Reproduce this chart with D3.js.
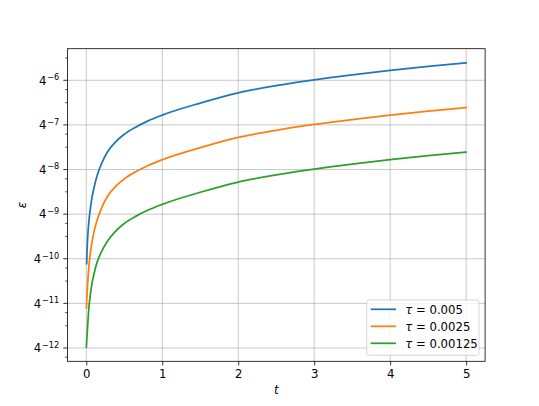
<!DOCTYPE html>
<html>
<head>
<meta charset="utf-8">
<script src="https://cdn.jsdelivr.net/npm/d3@7"></script>
<style>
  html, body { margin: 0; padding: 0; background: #fff; }
  svg { display: block; font-family: "DejaVu Sans", sans-serif; }
</style>
</head>
<body>
<div id="chart"></div>
<script>
// Error curves, log base 4 on the y axis
// values are read off the picture as powers of 4 (eps = 4^v)
const tauLabels = ["0.005", "0.0025", "0.00125"];
const colors = ["#1f77b4", "#ff7f0e", "#2ca02c"];

const tBlue = [0.005, 0.01, 0.02, 0.035, 0.05, 0.07, 0.1, 0.14, 0.2, 0.28, 0.38, 0.5, 0.65, 0.8, 1, 1.5, 2, 2.5, 3, 3.5, 4, 4.5, 5];
const blueLog4 = [-10.11, -9.82, -9.47, -9.15, -8.92, -8.68, -8.42, -8.15, -7.87, -7.60, -7.39, -7.21, -7.05, -6.92, -6.78, -6.51, -6.28, -6.12, -5.99, -5.88, -5.78, -5.69, -5.61];

const tOrange = [0.0025, 0.005, 0.01, 0.02, 0.035, 0.05, 0.07, 0.1, 0.14, 0.2, 0.28, 0.38, 0.5, 0.65, 0.8, 1, 1.5, 2, 2.5, 3, 3.5, 4, 4.5, 5];
const orangeLog4 = [-11.10, -10.98, -10.80, -10.50, -10.16, -9.92, -9.68, -9.41, -9.15, -8.87, -8.60, -8.39, -8.21, -8.05, -7.92, -7.78, -7.51, -7.28, -7.12, -6.99, -6.88, -6.78, -6.69, -6.61];

const tGreen = [0.00125, 0.005, 0.01, 0.02, 0.035, 0.05, 0.07, 0.1, 0.14, 0.2, 0.28, 0.38, 0.5, 0.65, 0.8, 1, 1.5, 2, 2.5, 3, 3.5, 4, 4.5, 5];
const greenLog4 = [-11.98, -11.86, -11.72, -11.44, -11.08, -10.85, -10.60, -10.35, -10.09, -9.84, -9.60, -9.39, -9.21, -9.05, -8.92, -8.78, -8.51, -8.28, -8.12, -7.99, -7.88, -7.78, -7.69, -7.61];

const xTicks = [0, 1, 2, 3, 4, 5];
const yTickPowers = [-12, -11, -10, -9, -8, -7, -6];

const series = [
  { t: tBlue, v: blueLog4 },
  { t: tOrange, v: orangeLog4 },
  { t: tGreen, v: greenLog4 },
].map((s, i) => ({
  label: tauLabels[i],
  color: colors[i],
  points: s.t.map((t, j) => ({ t, eps: Math.pow(4, s.v[j]) })),
}));

const W = 539, H = 406;
const margin = { left: 67.4, right: 539 - 485.1, top: 48.7, bottom: 406 - 361.3 };

const svg = d3.select("#chart").append("svg")
  .attr("width", W).attr("height", H)
  .attr("viewBox", `0 0 ${W} ${H}`);

// domains with matplotlib-style 5% margins (log space on y)
const allPts = series.flatMap((s) => s.points);
const tExt = d3.extent(allPts, (d) => d.t);
const tPad = (tExt[1] - tExt[0]) * 0.05;
const lExt = d3.extent(allPts, (d) => Math.log(d.eps) / Math.log(4));
const lPad = (lExt[1] - lExt[0]) * 0.05;

const x = d3.scaleLinear()
  .domain([tExt[0] - tPad, tExt[1] + tPad])
  .range([margin.left, W - margin.right]);
const y = d3.scaleLog().base(4)
  .domain([Math.pow(4, lExt[0] - lPad), Math.pow(4, lExt[1] + lPad)])
  .range([H - margin.bottom, margin.top]);

const gridColor = "#b0b0b0";
const fontSize = 11.7;

// grid
const grid = svg.append("g");
xTicks.forEach((t) => {
  grid.append("line")
    .attr("x1", x(t)).attr("x2", x(t))
    .attr("y1", margin.top).attr("y2", H - margin.bottom)
    .attr("stroke", gridColor).attr("stroke-width", 0.7);
});
yTickPowers.forEach((p) => {
  grid.append("line")
    .attr("x1", margin.left).attr("x2", W - margin.right)
    .attr("y1", y(Math.pow(4, p))).attr("y2", y(Math.pow(4, p)))
    .attr("stroke", gridColor).attr("stroke-width", 0.7);
});

// curves
const line = d3.line()
  .x((d) => x(d.t))
  .y((d) => y(d.eps))
  .curve(d3.curveMonotoneX);

const plot = svg.append("g");
series.forEach((s) => {
  plot.append("path")
    .attr("d", line(s.points))
    .attr("fill", "none")
    .attr("stroke", s.color)
    .attr("stroke-width", 1.75)
    .attr("stroke-linecap", "square");
});

// frame
svg.append("rect")
  .attr("x", margin.left).attr("y", margin.top)
  .attr("width", W - margin.left - margin.right)
  .attr("height", H - margin.top - margin.bottom)
  .attr("fill", "none").attr("stroke", "#000").attr("stroke-width", 0.8);

// x axis
const xAxis = svg.append("g").attr("transform", `translate(0,${H - margin.bottom})`)
  .call(d3.axisBottom(x).tickValues(xTicks).tickSize(4.1).tickPadding(4).tickFormat(d3.format("d")));
xAxis.select(".domain").remove();
xAxis.selectAll("line").attr("stroke", "#000").attr("stroke-width", 0.8);
xAxis.selectAll("text")
  .attr("font-family", "DejaVu Sans").attr("font-size", fontSize).attr("fill", "#000");

// y axis: majors at 4^k, minors at 2*4^k and 3*4^k
const yMinor = [];
for (let p = -13; p <= -5; p++) {
  [2, 3].forEach((m) => {
    const v = m * Math.pow(4, p);
    if (v >= y.domain()[0] && v <= y.domain()[1]) yMinor.push(v);
  });
}
const yAx = svg.append("g");
yMinor.forEach((v) => {
  yAx.append("line")
    .attr("x1", margin.left - 2.4).attr("x2", margin.left)
    .attr("y1", y(v)).attr("y2", y(v))
    .attr("stroke", "#000").attr("stroke-width", 0.6);
});
yTickPowers.forEach((p) => {
  const yy = y(Math.pow(4, p));
  yAx.append("line")
    .attr("x1", margin.left - 4.1).attr("x2", margin.left)
    .attr("y1", yy).attr("y2", yy)
    .attr("stroke", "#000").attr("stroke-width", 0.8);
  const txt = yAx.append("text")
    .attr("x", margin.left - 8.2).attr("y", yy + 4.2)
    .attr("text-anchor", "end")
    .attr("font-size", fontSize).attr("fill", "#000");
  txt.append("tspan").text("4");
  txt.append("tspan")
    .attr("font-size", fontSize * 0.7).attr("dy", -4.4)
    .attr("dx", 0.8)
    .text("\u2212" + Math.abs(p));
});

// axis labels
svg.append("text")
  .attr("x", (margin.left + W - margin.right) / 2).attr("y", 394)
  .attr("text-anchor", "middle")
  .attr("font-size", fontSize).attr("font-style", "italic")
  .text("t");
svg.append("text")
  .attr("transform", `translate(26,${(margin.top + H - margin.bottom) / 2}) rotate(-90)`)
  .attr("text-anchor", "middle")
  .attr("font-size", fontSize).attr("font-style", "italic")
  .text("\u03b5");

// legend
const lg = svg.append("g").attr("transform", "translate(366.7,300)");
lg.append("rect")
  .attr("width", 112.3).attr("height", 55.3).attr("rx", 2.5)
  .attr("fill", "#fff").attr("fill-opacity", 0.8)
  .attr("stroke", "#cccccc").attr("stroke-width", 0.8);
series.forEach((s, i) => {
  const ry = 9.3 + i * 17;
  lg.append("line")
    .attr("x1", 4).attr("x2", 29.3)
    .attr("y1", ry).attr("y2", ry)
    .attr("stroke", s.color).attr("stroke-width", 1.75);
  const txt = lg.append("text")
    .attr("x", 38.5).attr("y", ry + 4.2)
    .attr("font-size", fontSize).attr("fill", "#000");
  txt.append("tspan").attr("font-style", "italic").text("\u03c4");
  txt.append("tspan").text(" = " + s.label);
});
</script>
</body>
</html>
